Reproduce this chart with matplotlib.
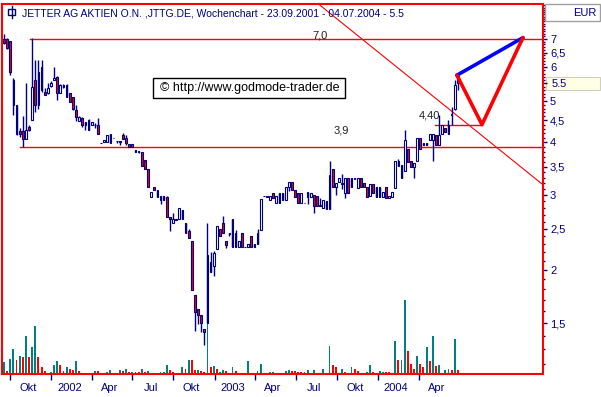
import numpy as np
import pandas as pd
import matplotlib
matplotlib.use('Agg')
import matplotlib.pyplot as plt
from matplotlib.patches import Rectangle
from matplotlib.lines import Line2D

plt.rcParams['font.family'] = ['Liberation Sans', 'DejaVu Sans']

# weekly candles, first week = 17.09.2001
first_week = pd.Timestamp('2001-09-17')

opens = [7.00, 7.00, 6.92, 5.60, 4.90, 4.26, 4.24, 4.06, 4.35, 4.50,
         5.60, 4.88, 6.02, 5.24, 5.21, 5.42, 5.60, 5.69, 5.21, 5.45,
         5.45, 5.21, 5.10, 4.75, 4.48, 4.55, 4.40, 4.50, 4.40, 4.40,
         4.38, 3.98, 4.00, 4.00, 3.98, 4.10, 4.03, 4.03, 4.15, 4.10,
         3.95, 3.95, 3.84, 3.82, 3.80, 3.64, 3.45, 2.97, 3.13, 2.97,
         2.93, 2.99, 2.97, 2.67, 2.58, 2.62, 2.64, 2.77, 2.58, 2.47,
         2.34, 1.75, 1.62, 1.57, 1.45, 1.50, 2.09, 2.04, 2.24, 2.50,
         2.58, 2.34, 2.44, 2.26, 2.44, 2.26, 2.44, 2.26, 2.26, 2.40,
         2.26, 2.30, 2.48, 2.99, 2.97, 2.93, 3.03, 2.88, 2.88, 2.93,
         2.93, 3.13, 3.23, 3.09, 3.03, 2.88, 2.88, 3.05, 2.97, 3.01,
         2.99, 2.83, 2.80, 2.91, 2.78, 3.46, 3.13, 3.23, 3.18, 3.03,
         3.30, 3.13, 3.27, 3.12, 3.30, 3.20, 3.13, 2.99, 3.18, 3.13,
         3.14, 2.97, 3.13, 2.95, 2.97, 3.12, 3.52, 3.54, 3.42, 3.86,
         3.62, 3.50, 3.62, 4.10, 3.93, 3.98, 4.04, 4.04, 4.15, 3.93,
         4.19, 4.33, 4.19, 4.63, 4.78, 5.72]
highs = [7.20, 7.04, 6.92, 5.66, 4.90, 4.31, 4.60, 5.50, 4.40, 7.04,
         6.24, 6.24, 6.24, 5.36, 5.50, 5.57, 6.00, 5.72, 5.48, 5.48,
         5.48, 5.21, 5.10, 4.88, 4.60, 4.58, 4.45, 4.53, 4.45, 4.43,
         4.55, 3.98, 4.05, 4.15, 4.19, 4.10, 4.03, 4.03, 4.21, 4.15,
         3.97, 3.95, 3.84, 3.82, 3.80, 3.64, 3.45, 3.05, 3.14, 3.09,
         2.99, 2.99, 2.99, 2.67, 2.73, 2.64, 2.80, 2.77, 2.58, 2.50,
         2.34, 1.75, 1.62, 1.57, 1.45, 2.58, 2.21, 2.22, 2.54, 2.50,
         2.68, 2.34, 2.44, 2.64, 2.48, 2.34, 2.44, 2.26, 2.30, 2.40,
         2.30, 2.50, 2.94, 2.99, 2.99, 2.99, 3.03, 2.99, 3.03, 3.03,
         3.13, 3.23, 3.23, 3.09, 3.03, 3.03, 2.88, 3.05, 3.03, 3.01,
         2.99, 2.96, 2.93, 2.91, 3.62, 3.46, 3.20, 3.30, 3.37, 3.30,
         3.30, 3.30, 3.30, 3.30, 3.30, 3.20, 3.13, 3.18, 3.18, 3.13,
         3.14, 3.05, 3.13, 2.99, 3.05, 3.62, 3.66, 3.54, 4.27, 3.86,
         3.62, 3.58, 4.10, 4.10, 3.98, 3.98, 4.19, 4.19, 4.15, 4.63,
         4.38, 4.33, 4.50, 4.85, 5.60, 5.75]
lows = [6.82, 6.62, 5.75, 4.63, 4.15, 4.11, 3.89, 4.06, 4.26, 4.50,
        4.70, 4.80, 5.24, 5.16, 5.19, 5.40, 5.60, 5.02, 5.21, 5.36,
        5.10, 4.96, 4.75, 4.48, 4.48, 4.35, 4.28, 4.28, 4.40, 4.33,
        4.17, 3.98, 4.00, 4.00, 3.98, 4.10, 3.98, 3.93, 4.06, 3.93,
        3.89, 3.89, 3.80, 3.78, 3.52, 3.45, 3.13, 2.97, 3.09, 2.97,
        2.86, 2.93, 2.67, 2.47, 2.58, 2.62, 2.64, 2.64, 2.44, 2.38,
        1.79, 1.44, 1.49, 1.43, 1.33, 1.50, 1.98, 1.94, 2.24, 2.40,
        2.44, 2.25, 2.40, 2.26, 2.26, 2.26, 2.26, 2.26, 2.26, 2.26,
        2.26, 2.30, 2.48, 2.99, 2.97, 2.93, 2.95, 2.88, 2.88, 2.93,
        2.93, 3.07, 3.09, 2.97, 2.88, 2.88, 2.88, 2.86, 2.97, 2.73,
        2.83, 2.83, 2.80, 2.78, 2.78, 3.13, 3.00, 3.23, 3.10, 2.95,
        3.03, 3.13, 3.27, 3.12, 3.13, 3.13, 2.97, 2.99, 3.03, 2.97,
        2.97, 2.97, 2.95, 2.95, 2.97, 3.12, 3.52, 3.30, 3.42, 3.60,
        3.50, 3.30, 3.62, 3.86, 3.93, 3.93, 4.04, 3.62, 3.93, 3.93,
        4.19, 4.23, 4.19, 4.40, 4.75, 5.30]
closes = [6.85, 6.66, 5.85, 4.88, 4.19, 4.19, 4.06, 4.28, 4.28, 5.40,
          4.88, 5.85, 5.30, 5.16, 5.36, 5.50, 5.66, 5.21, 5.45, 5.39,
          5.10, 4.96, 4.80, 4.58, 4.58, 4.40, 4.45, 4.28, 4.45, 4.40,
          4.17, 3.98, 4.05, 4.15, 4.19, 4.10, 4.03, 4.00, 4.06, 3.98,
          3.89, 3.89, 3.80, 3.80, 3.52, 3.45, 3.13, 3.05, 3.09, 3.09,
          2.99, 2.93, 2.67, 2.64, 2.64, 2.64, 2.80, 2.64, 2.44, 2.38,
          1.79, 1.59, 1.57, 1.50, 1.43, 2.17, 1.98, 2.19, 2.54, 2.40,
          2.44, 2.29, 2.43, 2.64, 2.26, 2.34, 2.26, 2.26, 2.30, 2.26,
          2.30, 2.44, 2.94, 2.99, 2.99, 2.99, 2.95, 2.99, 3.03, 3.03,
          3.13, 3.23, 3.09, 2.97, 2.88, 3.03, 2.88, 2.97, 3.03, 2.83,
          2.83, 2.85, 2.93, 2.78, 3.34, 3.13, 3.20, 3.30, 3.20, 3.30,
          3.03, 3.30, 3.30, 3.30, 3.13, 3.13, 2.97, 3.18, 3.03, 2.97,
          2.97, 3.05, 2.95, 2.99, 3.05, 3.62, 3.62, 3.30, 4.04, 3.60,
          3.50, 3.58, 4.10, 3.86, 3.98, 3.93, 4.19, 4.19, 3.93, 4.15,
          4.38, 4.23, 4.38, 4.65, 5.45, 5.50]
volumes = [12, 3, 15, 25, 14, 18, 17, 38, 17, 27,
           48, 17, 7, 3, 0, 2, 9, 13, 9, 3,
           7, 5, 4, 13, 3, 0, 0, 1, 0, 3,
           3, 0, 0, 2, 4, 0, 0, 4, 3, 5,
           2, 2, 2, 2, 5, 2, 3, 0, 0, 0,
           2, 2, 9, 4, 2, 0, 0, 7, 5, 14,
           14, 4, 4, 3, 2, 51, 7, 8, 5, 2,
           4, 3, 0, 7, 3, 0, 0, 0, 13, 0,
           0, 3, 10, 0, 0, 2, 2, 0, 0, 0,
           3, 4, 3, 3, 2, 2, 2, 4, 0, 4,
           0, 0, 5, 0, 28, 9, 7, 0, 5, 2,
           0, 7, 5, 3, 0, 0, 2, 9, 2, 0,
           3, 2, 2, 2, 0, 33, 14, 14, 74, 23,
           10, 5, 18, 10, 7, 27, 13, 38, 8, 9,
           0, 4, 5, 4, 35, 4]
# 1 = rising week (teal volume bar), 0 = falling week (red)
vol_up = [1, 0, 1, 1, 0, 1, 0, 1, 0, 1,
          1, 0, 0, 0, 1, 1, 1, 1, 0, 0,
          1, 0, 0, 1, 0, 1, 1, 1, 1, 1,
          0, 1, 1, 1, 1, 1, 1, 1, 0, 1,
          0, 1, 0, 0, 1, 0, 1, 1, 1, 1,
          1, 1, 1, 0, 0, 1, 1, 1, 0, 1,
          0, 0, 1, 0, 0, 1, 0, 1, 0, 1,
          1, 0, 1, 1, 0, 1, 1, 1, 1, 1,
          1, 1, 1, 1, 1, 1, 1, 1, 1, 1,
          1, 1, 0, 0, 0, 0, 0, 1, 1, 1,
          1, 1, 1, 1, 1, 0, 0, 1, 1, 0,
          1, 1, 0, 0, 1, 1, 1, 1, 0, 1,
          1, 1, 0, 0, 1, 1, 0, 1, 1, 0,
          0, 0, 1, 0, 0, 1, 0, 1, 0, 1,
          1, 1, 1, 0, 1, 0]

tick_dates = ['2001-10-01', '2002-01-01', '2002-04-01', '2002-07-01',
              '2002-10-01', '2003-01-01', '2003-04-01', '2003-07-01',
              '2003-10-01', '2004-01-01', '2004-04-01']
tick_labels = ['Okt', '2002', 'Apr', 'Jul', 'Okt', '2003', 'Apr', 'Jul',
               'Okt', '2004', 'Apr']
price_ticks = [1.5, 2, 2.5, 3, 3.5, 4, 4.5, 5, 5.5, 6, 6.5, 7]
price_labels = ['1,5', '2', '2,5', '3', '3,5', '4', '4,5', '5', '', '6', '6,5', '7']
last_price = 5.5

# drawings on the chart
resistance, res_from = 7.0, 8.3
support, sup_from = 3.9, 5.1
trend_x = [120.1, 171.4]
trend_y = [6.47, 3.21]
pullback, pull_x = 4.40, [137.7, 152.7]
target_x = [144.7, 152.7, 165.8]
target_y = [5.75, 4.40, 7.05]

navy = '#000080'
red = '#ff0000'
teal = '#008080'

o = np.array(opens)
h = np.array(highs)
l = np.array(lows)
c = np.array(closes)
v = np.array(volumes)
x = np.arange(len(o))
up = c >= o

W, H = 601, 397
fig = plt.figure(figsize=(W / 100, H / 100), dpi=100)
rect = [2 / W, 23 / H, 541 / W, 370 / H]
xmin, xmax = -0.64, 172.2

# volume underneath
axv = fig.add_axes(rect)
axv.bar(x, v, width=0.6, color=np.where(np.array(vol_up) == 1, teal, red), linewidth=0)
axv.set_xlim(xmin, xmax)
axv.set_ylim(0, v.max() * 5)
axv.axis('off')

ax = fig.add_axes(rect)
ax.patch.set_visible(False)
ax.set_yscale('log')
ax.set_xlim(xmin, xmax)
ax.set_ylim(1.138, 8.46)

ax.vlines(x, l, h, color=navy, lw=1, zorder=3)
ax.bar(x, np.abs(c - o), bottom=np.minimum(o, c), width=0.55,
       color=np.where(up, 'white', red), edgecolor=navy, linewidth=0.8, zorder=4)

# horizontal levels
ax.plot([res_from, xmax], [resistance, resistance], color=red, lw=1, zorder=2)
ax.plot([sup_from, xmax], [support, support], color=red, lw=1, zorder=2)
ax.plot(pull_x, [pullback, pullback], color=red, lw=1, zorder=2)
ax.text(101, 7.12, '7,0', ha='center', va='center', fontsize=8, color='#202020')
ax.text(107.7, 4.25, '3,9', ha='center', va='center', fontsize=8, color='#202020')
ax.text(135.8, 4.62, '4,40', ha='center', va='center', fontsize=8, color='#202020')

# trend line (straight on log scale)
k = np.log(trend_y[1] / trend_y[0]) / (trend_x[1] - trend_x[0])
tx = np.array([90, xmax])
ax.plot(tx, trend_y[0] * np.exp(k * (tx - trend_x[0])), color=red, lw=0.8, zorder=2)

# projection
ax.plot(target_x, target_y, color=red, lw=2.6, zorder=6, solid_capstyle='round')
ax.plot([target_x[0], target_x[2]], [target_y[0], target_y[2]], color='#0000ff',
        lw=2.6, zorder=5, solid_capstyle='round')

# copyright box
fig.add_artist(Rectangle((153 / W, 1 - 98 / H), 192 / W, 20 / H, transform=fig.transFigure,
                         fc='white', ec='black', lw=1, zorder=7))
fig.text(160 / W, 1 - 88 / H, '\u00a9 http://www.godmode-trader.de',
         fontsize=9, color='black', va='center', ha='left', zorder=8)

for s in ax.spines.values():
    s.set_color(red)
    s.set_linewidth(1.5)

# x axis
wk = [(pd.Timestamp(d) - first_week).days / 7 for d in tick_dates]
ax.set_xticks(wk)
ax.set_xticklabels([])
ax.tick_params(axis='x', direction='out', length=4, width=1, color=navy)
for p, t in zip(wk, tick_labels):
    ax.text(p + 5.8, -0.038, t, transform=ax.get_xaxis_transform(),
            ha='center', va='center', fontsize=8, color=navy)

# price axis on the right
ax.yaxis.tick_right()
ax.set_yticks(price_ticks)
ax.set_yticklabels(price_labels)
ax.set_yticks([m / 10 for m in range(12, 85) if m / 10 not in price_ticks], minor=True)
ax.yaxis.set_minor_formatter(plt.NullFormatter())
ax.tick_params(axis='y', which='major', direction='out', length=3, width=1,
               color=navy, labelcolor=navy, labelsize=8, pad=2)
ax.tick_params(axis='y', which='minor', direction='out', length=1.5, width=1, color=navy)

# current price marker
fig.add_artist(Rectangle((546 / W, 1 - 90 / H), 54 / W, 13 / H, transform=fig.transFigure,
                         fc='#ffffe6', ec='#d0d0c0', lw=0.8, zorder=-1))
fig.text(552 / W, 1 - 84 / H, '%.1f' % last_price, fontsize=8, color=navy,
         va='center', ha='left', zorder=5)

# header box with currency
fig.add_artist(Rectangle((545 / W, 1 - 21 / H), 55 / W, 17 / H, transform=fig.transFigure,
                         fc='white', ec='#a0a0a0', lw=1))
fig.text(597 / W, 1 - 13 / H, 'EUR', ha='right', va='center', fontsize=8, color=navy)

# title with small icon
fig.add_artist(Rectangle((8 / W, 1 - 15 / H), 7 / W, 6 / H, transform=fig.transFigure,
                         fc='white', ec=navy, lw=1))
fig.add_artist(Line2D([11.5 / W, 11.5 / W], [1 - 18 / H, 1 - 6 / H],
                      transform=fig.transFigure, color=navy, lw=1))
fig.text(22 / W, 1 - 13 / H,
         'JETTER AG AKTIEN O.N. ,JTTG.DE, Wochenchart - 23.09.2001 - 04.07.2004 - 5.5',
         ha='left', va='center', fontsize=7.5, color=navy)

fig.savefig('out.png', dpi=100, facecolor='white')
